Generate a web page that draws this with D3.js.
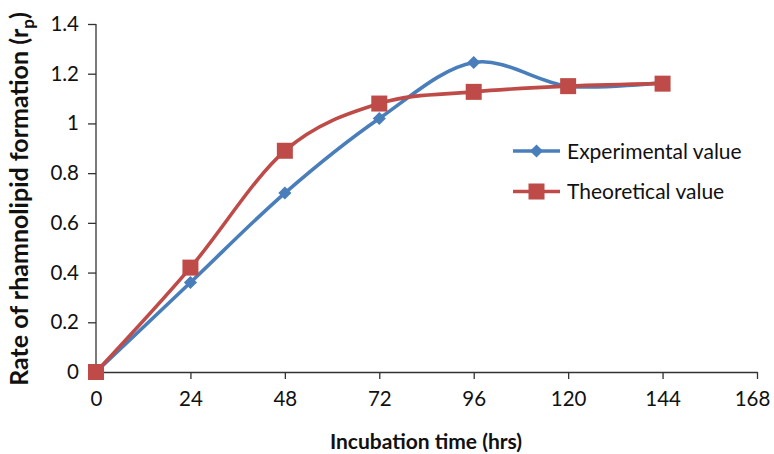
<!DOCTYPE html>
<html><head><meta charset="utf-8">
<script src="https://cdn.jsdelivr.net/npm/d3@7"></script>
<style>body{margin:0;background:#fff}svg{display:block}text{font-family:Lato,"Open Sans",sans-serif}</style>
</head><body><svg id="c" width="774" height="454"></svg>
<script>
const hours = [0, 24, 48, 72, 96, 120, 144];
const experimental = [0, 0.36, 0.72, 1.02, 1.245, 1.15, 1.165];
const theoretical = [0, 0.42, 0.89, 1.08, 1.127, 1.15, 1.16];
const xTicks = [0, 24, 48, 72, 96, 120, 144, 168];
const yTicks = [0, 0.2, 0.4, 0.6, 0.8, 1, 1.2, 1.4];
const seriesNames = ["Experimental value", "Theoretical value"];
const colors = ["#4A7EBB", "#BE4B48"];

const svg = d3.select("#c");
const x = d3.scaleLinear().domain([0, 168]).range([96, 757]);
const y = d3.scaleLinear().domain([0, 1.4]).range([372, 24]);

const xAxis = svg.append("g").attr("transform", "translate(0,372)")
  .call(d3.axisBottom(x).tickValues(xTicks).tickSize(7).tickSizeOuter(0).tickPadding(12).tickFormat(d3.format("d")));
const yAxis = svg.append("g").attr("transform", "translate(96,0)")
  .call(d3.axisLeft(y).tickValues(yTicks).tickSize(8).tickSizeOuter(0).tickPadding(9).tickFormat(d => d3.format("")(+d.toFixed(1))));
[xAxis, yAxis].forEach(a => {
  a.selectAll("path,line").attr("stroke", "#333").attr("stroke-width", 1.3);
  a.selectAll("text").attr("font-size", 20.5).attr("fill", "#111").attr("font-family", "Lato,'Open Sans',sans-serif");
});
xAxis.selectAll(".tick text").filter(d => d === 168).attr("dx", -5);
yAxis.select(".domain").attr("d", `M0,${y(1.4)}V${y(0)}`);

const line = d3.line().x((d, i) => x(hours[i])).y(d => y(d)).curve(d3.curveCatmullRom.alpha(0));
const data = [experimental, theoretical];
data.forEach((s, k) => {
  svg.append("path").attr("d", line(s)).attr("fill", "none").attr("stroke", colors[k]).attr("stroke-width", 3.6);
});
const diamond = d3.symbol().type(d3.symbolDiamond2).size(110);
svg.append("g").selectAll("path").data(experimental).join("path")
  .attr("d", diamond).attr("transform", (d, i) => `translate(${x(hours[i])},${y(d)})`).attr("fill", colors[0]);
svg.append("g").selectAll("rect").data(theoretical).join("rect")
  .attr("x", (d, i) => x(hours[i]) - 8).attr("y", d => y(d) - 8).attr("width", 16).attr("height", 16).attr("fill", colors[1]);

// legend
const lg = svg.append("g");
seriesNames.forEach((n, k) => {
  const ly = 151 + k * 40.5;
  lg.append("line").attr("x1", 513).attr("x2", 560).attr("y1", ly).attr("y2", ly).attr("stroke", colors[k]).attr("stroke-width", 3.6);
  if (k === 0) lg.append("path").attr("d", diamond).attr("transform", `translate(536.5,${ly})`).attr("fill", colors[0]);
  else lg.append("rect").attr("x", 528.5).attr("y", ly - 8).attr("width", 16).attr("height", 16).attr("fill", colors[1]);
  lg.append("text").attr("x", 567).attr("y", ly + 7.5).attr("font-size", 21).attr("fill", "#111").text(n);
});

// axis titles
svg.append("text").attr("x", 426).attr("y", 449).attr("text-anchor", "middle").attr("font-size", 21).attr("font-weight", "bold").attr("fill", "#111").text("Incubation time (hrs)");
const yt = svg.append("text").attr("transform", "translate(28,199) rotate(-90)").attr("text-anchor", "middle").attr("font-size", 25).attr("font-weight", "bold").attr("fill", "#111");
yt.append("tspan").text("Rate of rhamnolipid formation (r");
yt.append("tspan").attr("font-size", 17).attr("dy", 6).text("p");
yt.append("tspan").attr("dy", -6).text(")");
</script></body></html>
